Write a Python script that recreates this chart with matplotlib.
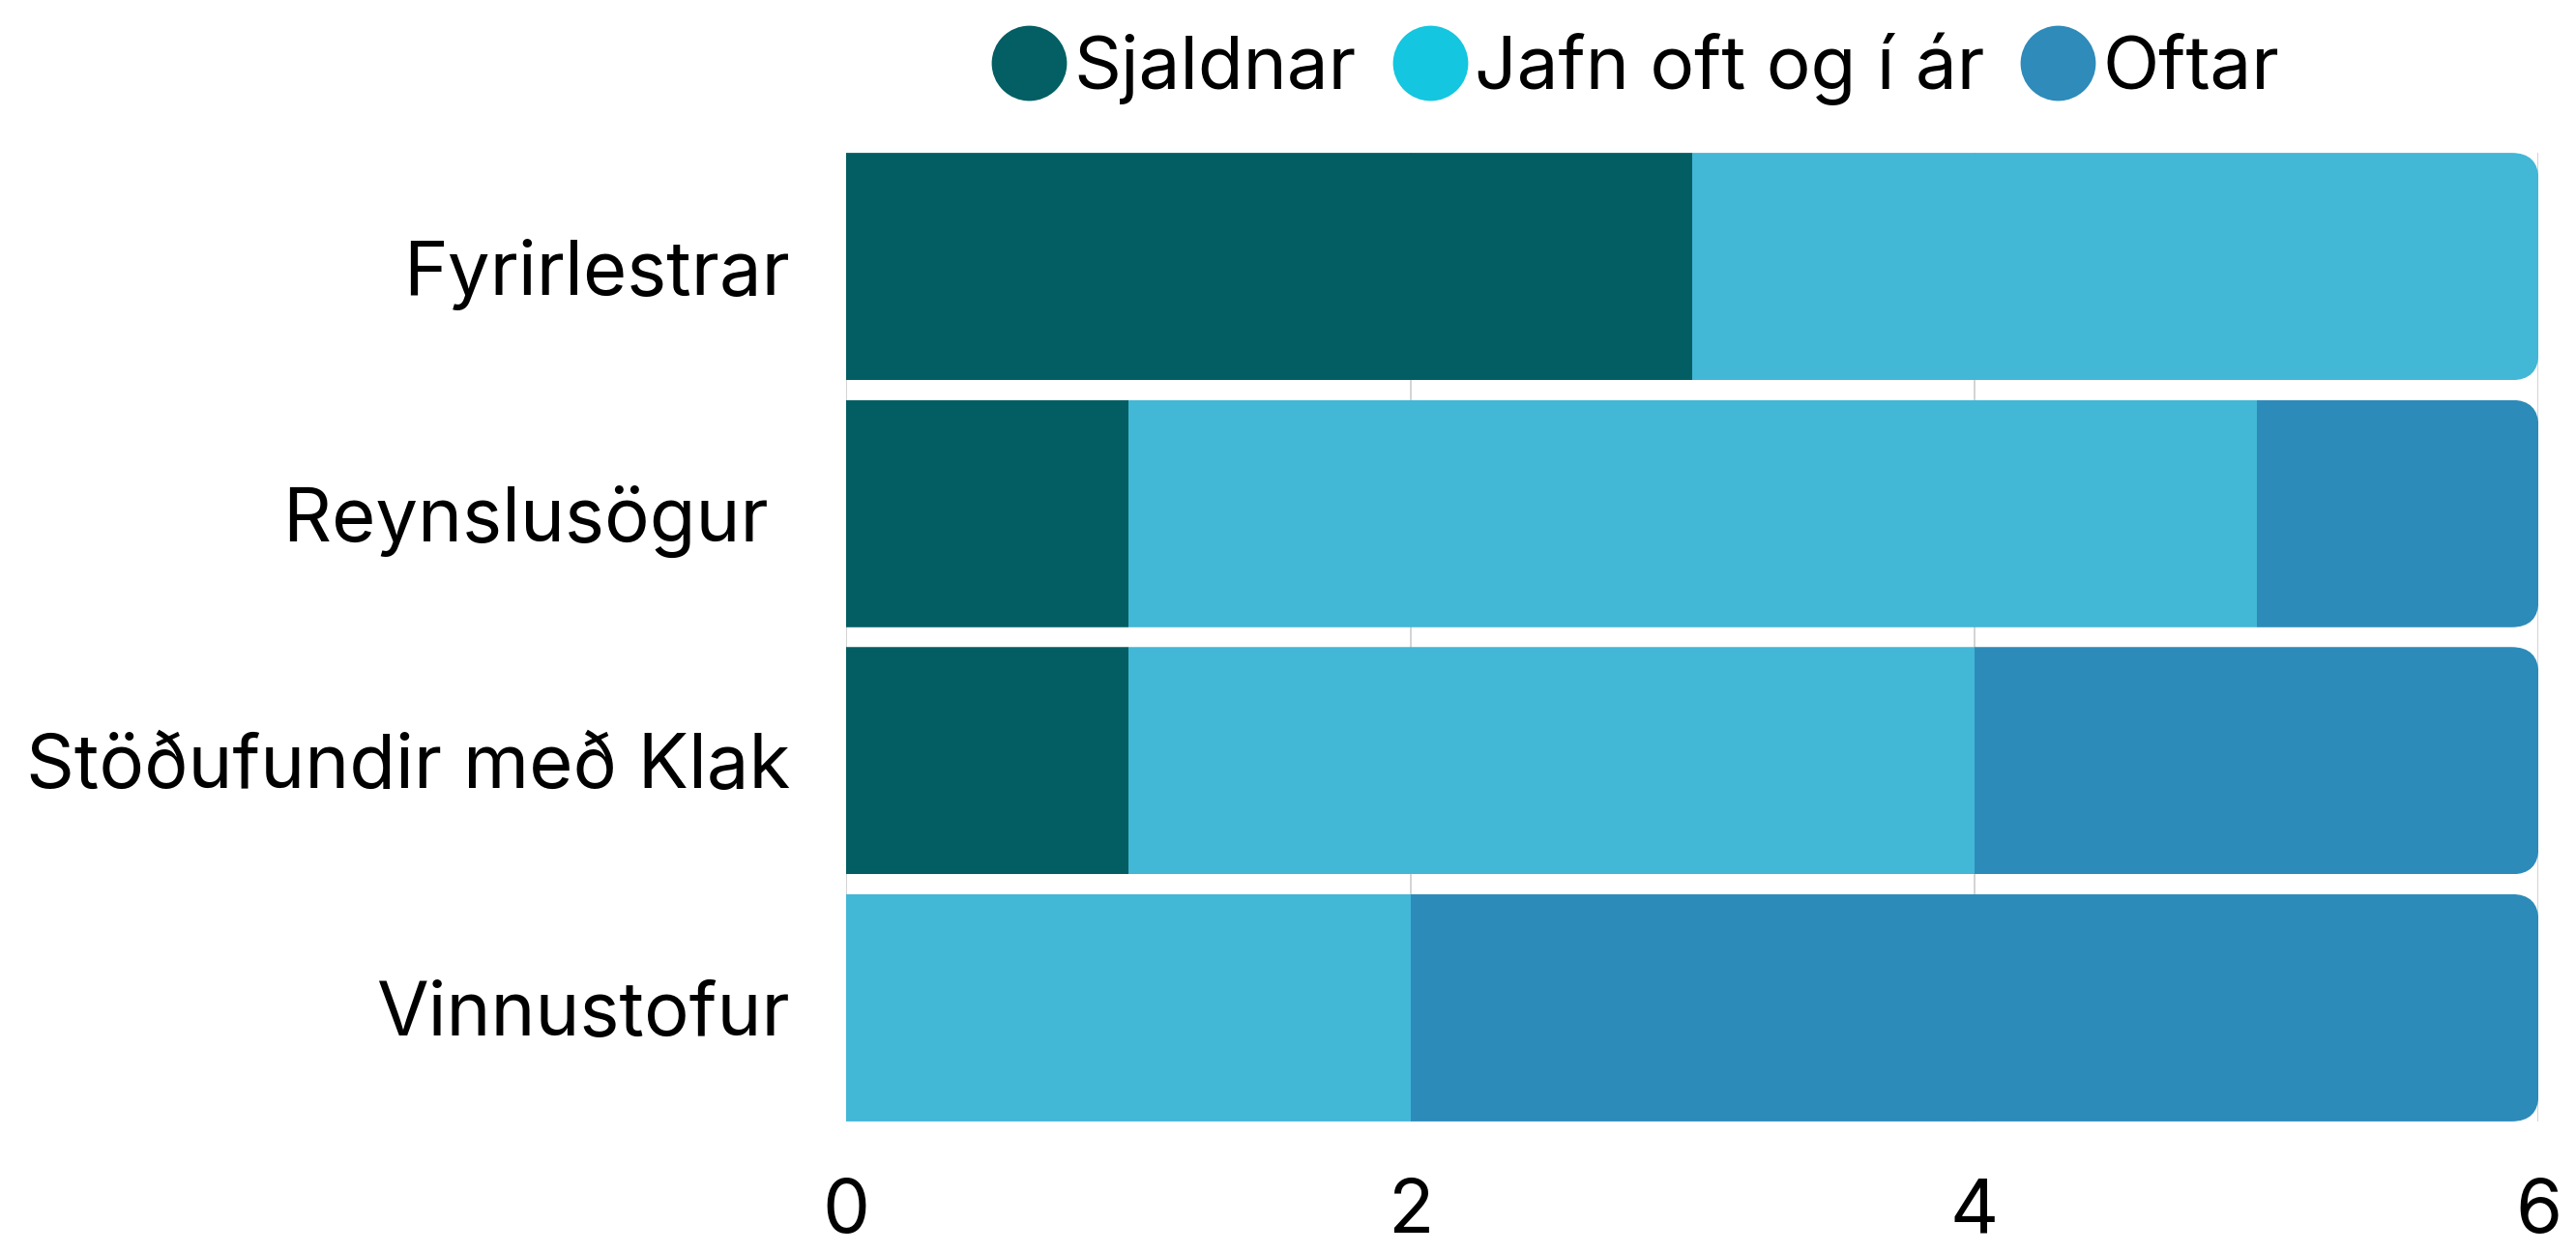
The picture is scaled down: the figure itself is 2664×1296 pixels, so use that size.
import matplotlib.pyplot as plt
from matplotlib.patches import FancyBboxPatch
from matplotlib.lines import Line2D

plt.rcParams['font.family'] = ['Inter', 'DejaVu Sans']

# Gögn
flokkar = ['Fyrirlestrar', 'Reynslusögur ', 'Stöðufundir með Klak', 'Vinnustofur']
sjaldnar = [3, 1, 1, 0]
jafn_oft = [3, 4, 3, 2]
oftar = [0, 1, 2, 4]

raðir = ['Sjaldnar', 'Jafn oft og í ár', 'Oftar']
litir = ['#025e63', '#42b7d6', '#2d8bb9']
legend_litir = ['#035f63', '#14c6df', '#2e8bba']

fig = plt.figure(figsize=(26.64, 12.96), dpi=100)
ax = fig.add_axes([0.3285, 0.105, 0.657, 0.773])

y = list(range(len(flokkar)))
h = 0.92
left = [0] * len(flokkar)
bars = []
for gildi, lit in zip([sjaldnar, jafn_oft, oftar], litir):
    b = ax.barh(y, gildi, height=h, left=left, color=lit, zorder=2)
    bars.append(b)
    left = [l + g for l, g in zip(left, gildi)]

ax.set_xlim(0, 6)
ax.set_ylim(len(flokkar) - 1 + h / 2, -h / 2)

# rúnnuð horn hægra megin
for i, total in enumerate(left):
    clip = FancyBboxPatch((-1, i - h / 2), total + 1, h,
                          boxstyle='round,pad=0,rounding_size=0.096',
                          mutation_aspect=1.14, transform=ax.transData,
                          facecolor='none', edgecolor='none')
    ax.add_patch(clip)
    for b in bars:
        b[i].set_clip_path(clip)

ax.set_xticks([0, 2, 4, 6])
ax.set_yticks(y)
ax.set_yticklabels(flokkar)
ax.tick_params(axis='x', length=0, pad=42, labelsize=56)
ax.tick_params(axis='y', length=0, pad=42, labelsize=56)
ax.grid(axis='x', color='#cccccc', linewidth=1.2, zorder=0)
ax.set_axisbelow(True)
for s in ax.spines.values():
    s.set_visible(False)

handles = [Line2D([], [], marker='o', linestyle='none', markersize=56,
                  markerfacecolor=c, markeredgecolor='none') for c in legend_litir]
fig.legend(handles, raðir, loc='center', bbox_to_anchor=(0.635, 0.945), ncol=3,
           frameon=False, fontsize=55, handletextpad=0.1, columnspacing=0.5,
           handlelength=1.0)

fig.savefig('out.png', dpi=100)
plt.close()
